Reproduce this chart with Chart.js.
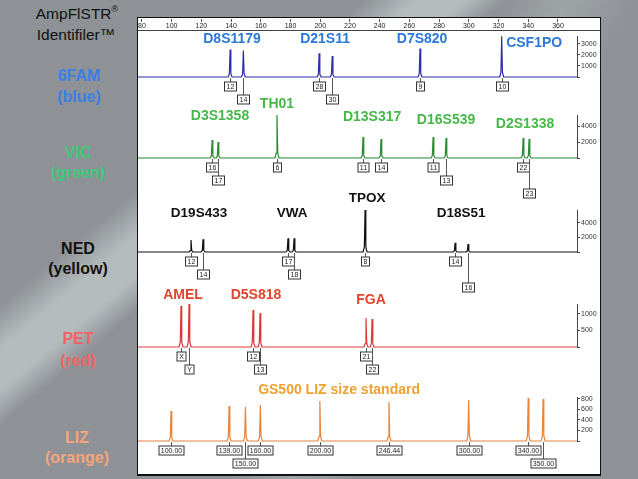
<!DOCTYPE html>
<html><head><meta charset="utf-8">
<script src="https://cdn.jsdelivr.net/npm/chart.js@4.4.1/dist/chart.umd.min.js"></script>
<style>
html,body{margin:0;padding:0;}
body{width:638px;height:479px;overflow:hidden;position:relative;font-family:"Liberation Sans",Arial,sans-serif;
background:
 linear-gradient(140deg, rgba(210,220,220,0) 30%, rgba(205,216,216,0.6) 34.5%, rgba(205,216,216,0.6) 38.5%, rgba(210,220,220,0) 42%),
 linear-gradient(120deg, rgba(255,255,255,0) 55%, rgba(190,200,200,0.35) 62%, rgba(255,255,255,0) 70%),
 #8e9195;}
#panel{position:absolute;left:137px;top:17px;width:462px;height:456px;background:#fff;border:1px solid #111;border-bottom:2px solid #111;}
.wrap{position:absolute;left:138px;width:462px;}
.t{position:absolute;width:140px;text-align:center;white-space:nowrap;line-height:1;transform:translateY(-50%);}
.h{font-weight:bold;font-size:16px;}
sup{font-size:9px;vertical-align:top;position:relative;top:-1px;}
#sep{position:absolute;left:138px;top:30px;width:462px;height:1px;background:#444;}
</style></head>
<body>
<div id="panel"></div>
<div class="t" style="left:7px;top:14px;font-size:15.5px;color:#111;">AmpFlSTR<sup>®</sup></div>
<div class="t" style="left:6px;top:35px;font-size:15.5px;color:#111;">Identifiler™</div>
<div class="t h" style="left:9px;top:76px;color:#3a7fe6;">6FAM</div>
<div class="t h" style="left:9px;top:97px;color:#3a7fe6;">(blue)</div>
<div class="t h" style="left:8px;top:153px;color:#3fc97a;">VIC</div>
<div class="t h" style="left:8px;top:173px;color:#3fc97a;">(green)</div>
<div class="t h" style="left:8px;top:249px;color:#111;">NED</div>
<div class="t h" style="left:8px;top:269px;color:#111;">(yellow)</div>
<div class="t h" style="left:8px;top:339px;color:#f06464;">PET</div>
<div class="t h" style="left:8px;top:361px;color:#f06464;">(red)</div>
<div class="t h" style="left:7px;top:438px;color:#f5a67c;">LIZ</div>
<div class="t h" style="left:7px;top:458px;color:#f5a67c;">(orange)</div>

<div class="wrap" style="top:18px;height:13px;overflow:hidden;"><canvas id="ruler"></canvas></div>
<div id="sep"></div>
<div class="wrap" style="top:31px;height:81px;"><canvas id="p1"></canvas></div>
<div class="wrap" style="top:96px;height:104px;"><canvas id="p2"></canvas></div>
<div class="wrap" style="top:186px;height:108px;"><canvas id="p3"></canvas></div>
<div class="wrap" style="top:284px;height:92px;"><canvas id="p4"></canvas></div>
<div class="wrap" style="top:378px;height:94px;"><canvas id="p5"></canvas></div>

<script>
// ---------- data ----------
const X_MIN = 77.8, X_MAX = 372.8;            // size axis (bp)
const rulerTicks = [80,100,120,140,160,180,200,220,240,260,280,300,320,340,360];

// 6FAM (blue)
const famPeaks   = [139.7, 148.6, 199.5, 208.3, 267.3, 322.2];
const famHeights = [2490, 2400, 2140, 1890, 2570, 3690];
const famAlleles = ['12','14','28','30','9','10'];
const famMarkers = ['D8S1179','D21S11','D7S820','CSF1PO'];
const famMarkerPos = [141, 203.5, 268.7, 344];
const famTicks = [1000, 2000, 3000];

// VIC (green)
const vicPeaks   = [127.6, 131.6, 171.2, 229.0, 241.1, 276.1, 284.8, 336.6, 340.6];
const vicHeights = [2250, 2000, 5375, 2625, 2375, 2625, 2500, 2500, 2375];
const vicAlleles = ['16','17','6','11','14','11','13','22','23'];
const vicMarkers = ['D3S1358','TH01','D13S317','D16S539','D2S1338'];
const vicMarkerPos = [132.9, 171.2, 235.1, 284.8, 337.9];
const vicTicks = [2000, 4000];

// NED (yellow, drawn black)
const nedPeaks   = [113.4, 121.5, 178.6, 182.7, 230.4, 290.9, 299.6];
const nedHeights = [1655, 1750, 1890, 1890, 5790, 1280, 1100];
const nedAlleles = ['12','14','17','18','8','14','16'];
const nedMarkers = ['D19S433','VWA','TPOX','D18S51'];
const nedMarkerPos = [118.8, 181.3, 231.7, 294.9];
const nedTicks = [2000, 4000];

// PET (red)
const petPeaks   = [106.7, 112.1, 155.1, 159.8, 231.0, 235.1];
const petHeights = [1242, 1303, 1121, 1030, 879, 848];
const petAlleles = ['X','Y','12','13','21','22'];
const petMarkers = ['AMEL','D5S818','FGA'];
const petMarkerPos = [108.1, 157.1, 234.4];
const petTicks = [500, 1000];

// LIZ (orange) size standard
const lizPeaks   = [100, 139, 150, 160, 200, 246.44, 300, 340, 350];
const lizHeights = [571, 667, 648, 686, 762, 743, 781, 819, 800];
const lizAlleles = ['100.00','139.00','150.00','160.00','200.00','246.44','300.00','340.00','350.00'];
const lizMarkers = ['GS500 LIZ size standard'];
const lizMarkerPos = [212.9];
const lizTicks = [200, 400, 600, 800];

// ---------- rendering ----------
const FONT = '"Liberation Sans", Arial, sans-serif';
const LEVEL_DY = [0, 9, 22, 35];

function trace(peaks, heights) {
  const pts = [{x: X_MIN, y: 0}];
  peaks.forEach((p, i) => {
    const h = heights[i];
    pts.push({x: p - 1.3, y: 0}, {x: p - 0.5, y: h * 0.12}, {x: p, y: h},
             {x: p + 0.5, y: h * 0.12}, {x: p + 1.3, y: 0});
  });
  pts.push({x: X_MAX, y: 0});
  return pts;
}

const annotPlugin = {
  id: 'annot',
  afterDatasetsDraw(chart, args, o) {
    const ctx = chart.ctx, xs = chart.scales.x, ys = chart.scales.y;
    const base = ys.getPixelForValue(0);
    ctx.save();
    ctx.textAlign = 'center'; ctx.textBaseline = 'middle';
    ctx.font = o.markerFont; ctx.fillStyle = o.markerColor;
    o.markers.forEach((m, i) => ctx.fillText(m, xs.getPixelForValue(o.markerPos[i]), base + o.markerDy[i]));
    ctx.font = '7px ' + FONT;
    o.alleles.forEach((a, i) => {
      const x = Math.round(xs.getPixelForValue(o.allelePos[i])) + 0.5;
      const cy = Math.round(base + LEVEL_DY[o.levels[i]]) + 0.5;
      const w = Math.round(ctx.measureText(a).width + 4), h = 9;
      ctx.strokeStyle = '#555'; ctx.lineWidth = 1;
      ctx.beginPath(); ctx.moveTo(x, base + 1); ctx.lineTo(x, cy - h / 2); ctx.stroke();
      ctx.fillStyle = '#fff'; ctx.fillRect(x - w / 2, cy - h / 2, w, h);
      ctx.strokeStyle = '#333'; ctx.strokeRect(x - w / 2, cy - h / 2, w, h);
      ctx.fillStyle = '#222'; ctx.fillText(a, x, cy + 0.5);
    });
    ctx.restore();
  }
};

function makePanel(id, c) {
  new Chart(document.getElementById(id), {
    type: 'line',
    data: {datasets: [{data: trace(c.peaks, c.heights), borderColor: c.color, borderWidth: 1.2,
      pointRadius: 0, tension: 0, clip: false, borderJoinStyle: 'bevel'}]},
    options: {
      responsive: true, maintainAspectRatio: false, animation: false, events: [],
      layout: {autoPadding: false, padding: {top: c.padTop, bottom: c.padBottom, left: 0, right: 0}},
      plugins: {legend: {display: false}, tooltip: {enabled: false},
        annot: {markers: c.markers, markerPos: c.markerPos, markerDy: c.markerDy,
          markerFont: 'bold ' + c.markerSize + 'px ' + FONT, markerColor: c.markerColor,
          alleles: c.alleles, allelePos: c.peaks, levels: c.levels}},
      scales: {
        x: {type: 'linear', min: X_MIN, max: X_MAX, display: false},
        y: {type: 'linear', position: 'right', min: 0, max: c.max,
          afterFit: s => { s.width = 23; },
          afterBuildTicks: s => { s.ticks = [0, ...c.ticks].map(v => ({value: v})); },
          border: {display: true, color: '#444', width: 1},
          grid: {drawOnChartArea: false, drawTicks: true, tickLength: 3, color: '#444'},
          ticks: {font: {size: 7, family: FONT}, color: '#333', padding: 1, autoSkip: false,
            callback: v => v === 0 ? '' : String(v)}}
      }
    },
    plugins: [annotPlugin]
  });
}

// ruler
new Chart(document.getElementById('ruler'), {
  type: 'line', data: {datasets: []},
  options: {
    responsive: true, maintainAspectRatio: false, animation: false, events: [],
    layout: {autoPadding: false, padding: {right: 23}},
    plugins: {legend: {display: false}, tooltip: {enabled: false}},
    scales: {
      x: {type: 'linear', position: 'bottom', min: X_MIN, max: X_MAX,
        afterFit: s => { s.height = 12; },
        afterBuildTicks: s => { s.ticks = rulerTicks.map(v => ({value: v})); },
        border: {display: false},
        grid: {drawOnChartArea: false, tickLength: 3, color: '#555'},
        ticks: {font: {size: 7, family: FONT}, color: '#222', padding: 0, maxRotation: 0, autoSkip: false}},
      y: {display: false, min: 0, max: 1}
    }
  }
});

makePanel('p1', {peaks: famPeaks, heights: famHeights, alleles: famAlleles, levels: [1,2,1,2,1,1],
  markers: famMarkers, markerPos: famMarkerPos, markerDy: [-38,-38,-38,-34], markerSize: 14, markerColor: '#2a78d8',
  color: '#2e2ea6', max: 3686, ticks: famTicks, padTop: 3, padBottom: 35});
makePanel('p2', {peaks: vicPeaks, heights: vicHeights, alleles: vicAlleles, levels: [1,2,1,1,1,1,2,1,3],
  markers: vicMarkers, markerPos: vicMarkerPos, markerDy: [-42,-54,-41,-38,-34], markerSize: 14, markerColor: '#46b84a',
  color: '#2c8a34', max: 5375, ticks: vicTicks, padTop: 19, padBottom: 42});
makePanel('p3', {peaks: nedPeaks, heights: nedHeights, alleles: nedAlleles, levels: [1,2,1,2,1,1,3],
  markers: nedMarkers, markerPos: nedMarkerPos, markerDy: [-39,-39,-54,-39], markerSize: 13.5, markerColor: '#111',
  color: '#111', max: 5793, ticks: nedTicks, padTop: 24, padBottom: 42});
makePanel('p4', {peaks: petPeaks, heights: petHeights, alleles: petAlleles, levels: [1,2,1,2,1,2],
  markers: petMarkers, markerPos: petMarkerPos, markerDy: [-52,-52,-47], markerSize: 14, markerColor: '#e0442c',
  color: '#d83a3a', max: 1303, ticks: petTicks, padTop: 20, padBottom: 29});
makePanel('p5', {peaks: lizPeaks, heights: lizHeights, alleles: lizAlleles, levels: [1,1,2,1,1,1,1,1,2],
  markers: lizMarkers, markerPos: lizMarkerPos, markerDy: [-51], markerSize: 14, markerColor: '#f0a030',
  color: '#e8843c', max: 838, ticks: lizTicks, padTop: 19, padBottom: 31});
</script>
</body></html>
